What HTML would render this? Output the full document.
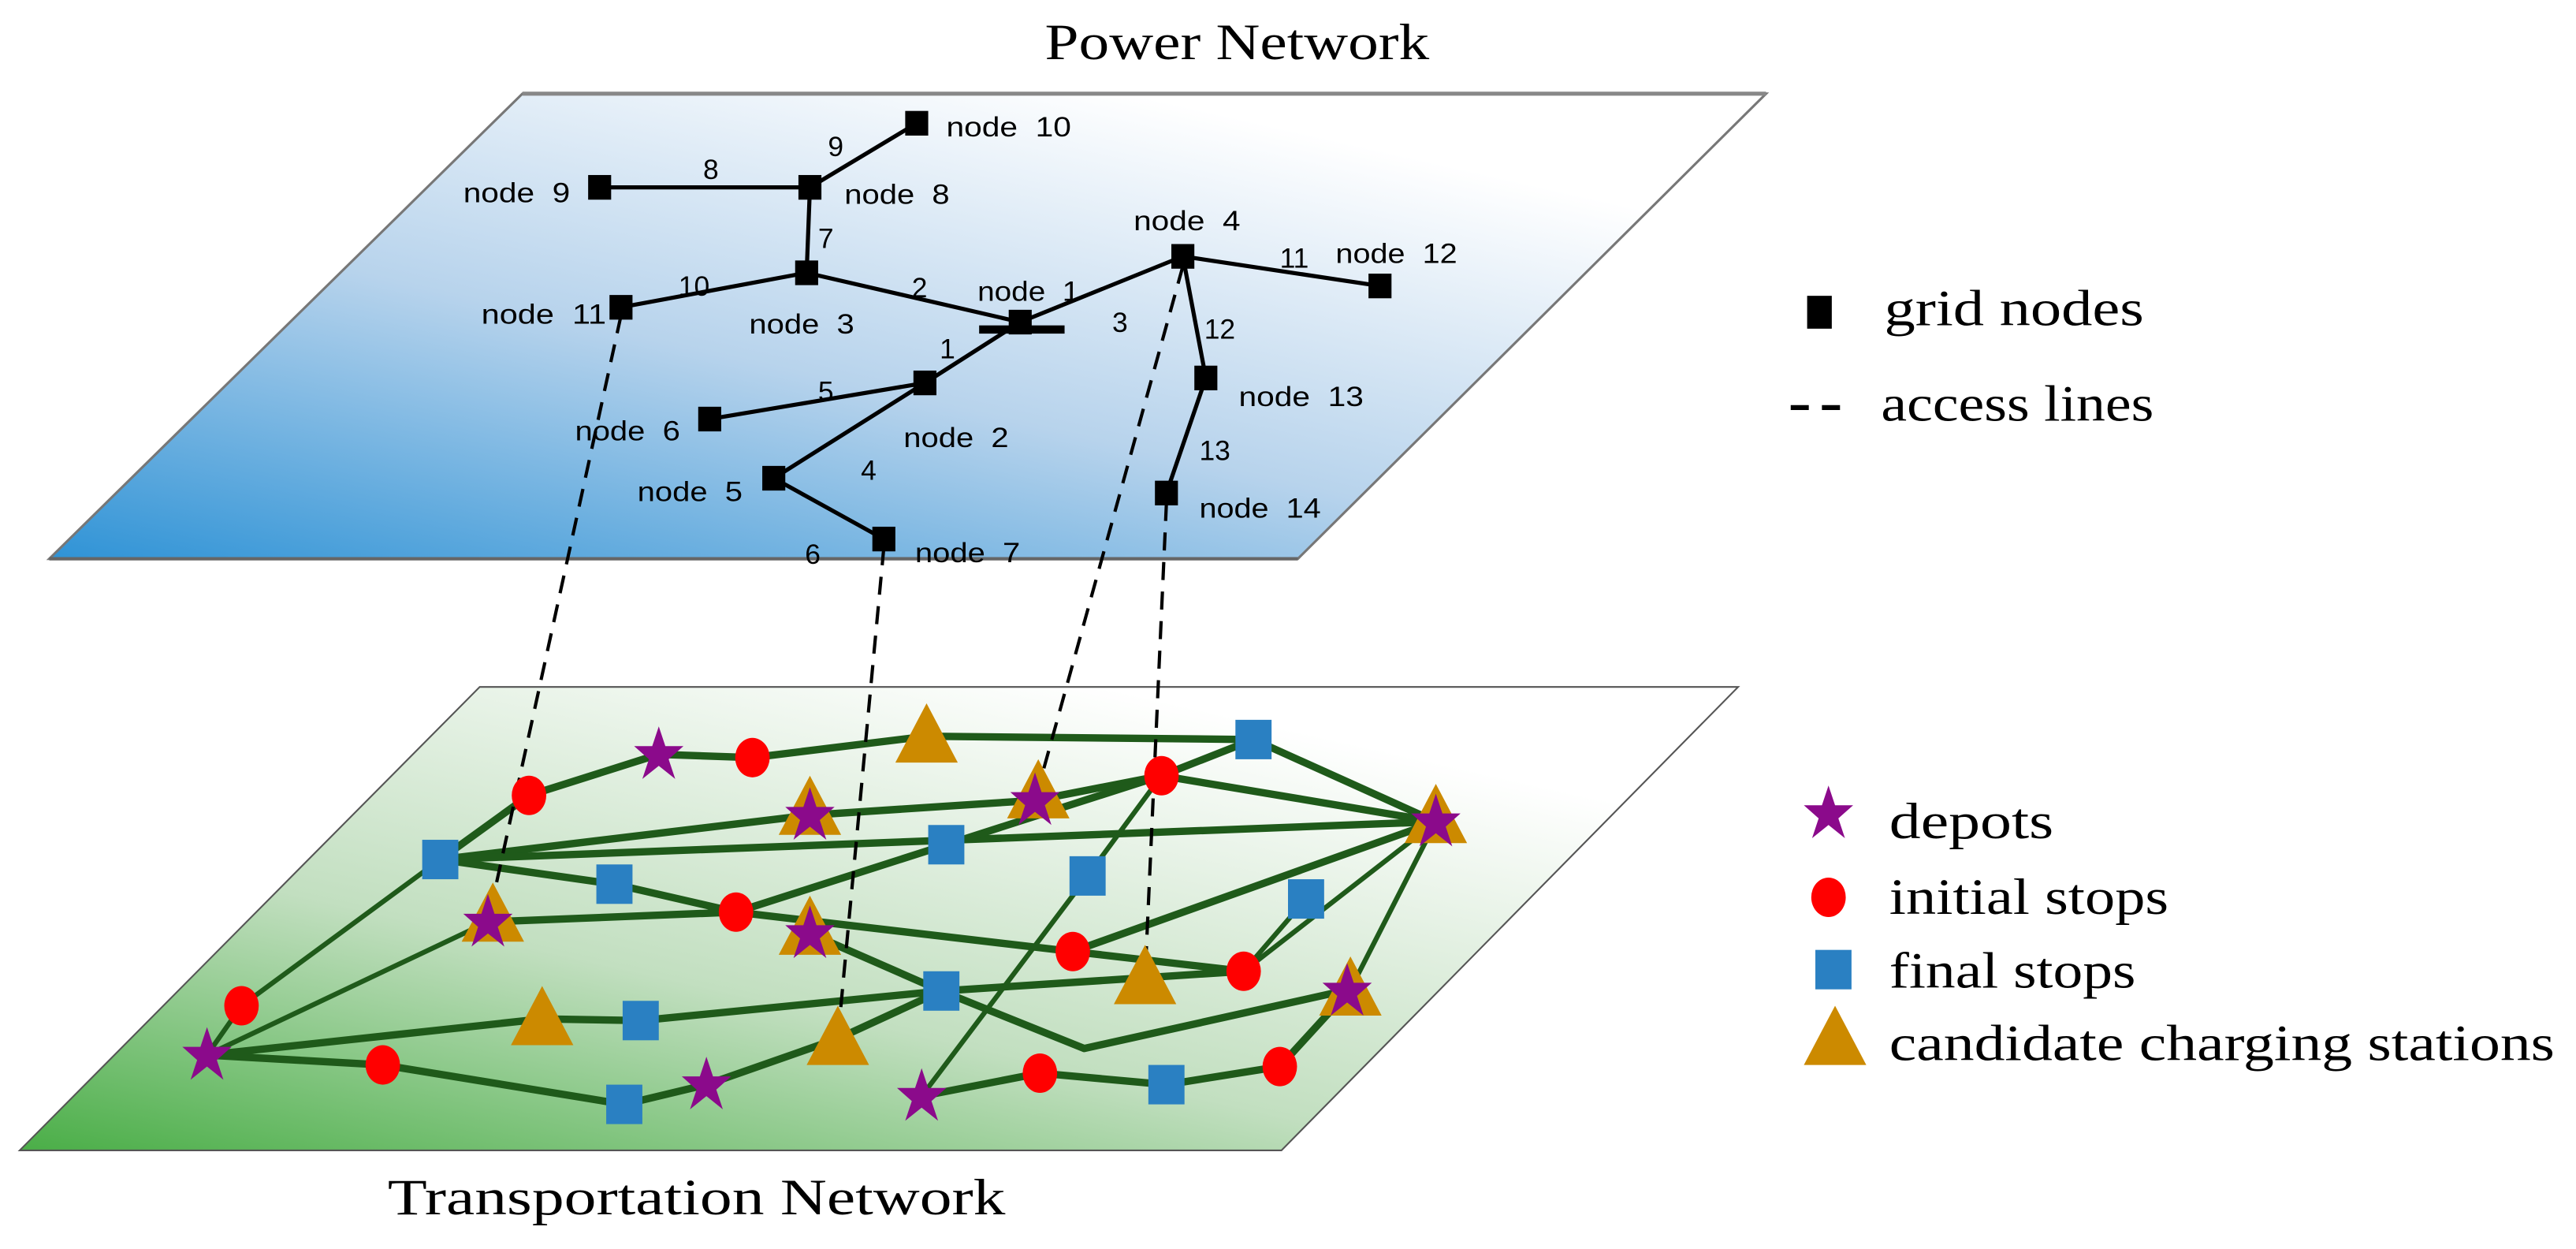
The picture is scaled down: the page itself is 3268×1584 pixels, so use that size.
<!DOCTYPE html>
<html><head><meta charset="utf-8"><style>
html,body{margin:0;padding:0;background:#fff}
svg{display:block}
.n{font-family:"Liberation Sans",Arial,sans-serif;font-size:17px;fill:#000;white-space:pre}
.s{font-family:"Liberation Serif",serif;fill:#000}
</style></head><body>
<svg width="3268" height="1584" viewBox="0 0 1568 760" preserveAspectRatio="none" xmlns="http://www.w3.org/2000/svg">
<defs>
<linearGradient id="gb" x1="0" y1="1" x2="0.75" y2="0.1">
<stop offset="0" stop-color="#2f93d6"/><stop offset="0.5" stop-color="#b7d3ec"/><stop offset="1" stop-color="#ffffff"/>
</linearGradient>
<linearGradient id="gg" x1="0" y1="1" x2="0.75" y2="0.1">
<stop offset="0" stop-color="#4aae47"/><stop offset="0.45" stop-color="#c2dfc0"/><stop offset="1" stop-color="#ffffff"/>
</linearGradient>
<polygon id="star" points="0,-17 4,-5 15,-5 6,3 10,15 0,7 -10,15 -6,3 -15,-5 -4,-5" fill="#8b0a8b"/>
<polygon id="tri" points="0,-20 19,16 -19,16" fill="#cc8a00"/>
<rect id="sq" x="-11" y="-12" width="22" height="24" fill="#2a80c2"/>
<ellipse id="ci" rx="10.5" ry="12" fill="#ff0000"/>
<rect id="gn" x="-7" y="-7.5" width="14" height="15" fill="#000"/>
</defs>

<text class="s" x="636" y="36" font-size="31" textLength="234" lengthAdjust="spacingAndGlyphs">Power Network</text>
<polygon points="318,57 1075,57 790,340 30,340" fill="url(#gb)" stroke="#777" stroke-width="1.5"/>
<line x1="318" y1="57" x2="1075" y2="57" stroke="#888" stroke-width="2.5"/>
<line x1="30" y1="340" x2="790" y2="340" stroke="#666" stroke-width="2"/>

<polygon points="292,418 1058,418 780,700 12,700" fill="url(#gg)" stroke="#555" stroke-width="1"/>
<text class="s" x="236" y="739" font-size="31" textLength="376" lengthAdjust="spacingAndGlyphs">Transportation Network</text>

<g stroke="#000" stroke-width="2.5" fill="none">
<line x1="558" y1="75" x2="493" y2="114"/>
<line x1="365" y1="114" x2="493" y2="114"/>
<line x1="493" y1="114" x2="491" y2="166"/>
<line x1="491" y1="166" x2="378" y2="187"/>
<line x1="491" y1="166" x2="621" y2="196"/>
<line x1="621" y1="196" x2="720" y2="156"/>
<line x1="720" y1="156" x2="840" y2="174"/>
<line x1="720" y1="156" x2="734" y2="230"/>
<line x1="734" y1="230" x2="710" y2="300"/>
<line x1="621" y1="196" x2="563" y2="233"/>
<line x1="563" y1="233" x2="432" y2="255"/>
<line x1="563" y1="233" x2="471" y2="291"/>
<line x1="471" y1="291" x2="538" y2="328"/>
</g>
<rect x="596" y="198" width="52" height="5" fill="#000"/>
<g>
<use href="#gn" x="558" y="75"/><use href="#gn" x="365" y="114"/><use href="#gn" x="493" y="114"/>
<use href="#gn" x="491" y="166"/><use href="#gn" x="378" y="187"/><use href="#gn" x="621" y="196"/>
<use href="#gn" x="720" y="156"/><use href="#gn" x="840" y="174"/><use href="#gn" x="563" y="233"/>
<use href="#gn" x="432" y="255"/><use href="#gn" x="734" y="230"/><use href="#gn" x="471" y="291"/>
<use href="#gn" x="710" y="300"/><use href="#gn" x="538" y="328"/>
</g>
<g>
<text class="n" x="576" y="83" textLength="76" lengthAdjust="spacingAndGlyphs">node  10</text>
<text class="n" x="504" y="95">9</text>
<text class="n" x="428" y="109">8</text>
<text class="n" x="282" y="123" textLength="65" lengthAdjust="spacingAndGlyphs">node  9</text>
<text class="n" x="514" y="124" textLength="64" lengthAdjust="spacingAndGlyphs">node  8</text>
<text class="n" x="498" y="151">7</text>
<text class="n" x="690" y="140" textLength="65" lengthAdjust="spacingAndGlyphs">node  4</text>
<text class="n" x="779" y="163">11</text>
<text class="n" x="813" y="160" textLength="74" lengthAdjust="spacingAndGlyphs">node  12</text>
<text class="n" x="413" y="180">10</text>
<text class="n" x="555" y="181">2</text>
<text class="n" x="595" y="183" textLength="62" lengthAdjust="spacingAndGlyphs">node  1</text>
<text class="n" x="293" y="197" textLength="76" lengthAdjust="spacingAndGlyphs">node  11</text>
<text class="n" x="456" y="203" textLength="64" lengthAdjust="spacingAndGlyphs">node  3</text>
<text class="n" x="677" y="202">3</text>
<text class="n" x="733" y="206">12</text>
<text class="n" x="572" y="218">1</text>
<text class="n" x="498" y="244">5</text>
<text class="n" x="754" y="247" textLength="76" lengthAdjust="spacingAndGlyphs">node  13</text>
<text class="n" x="350" y="268" textLength="64" lengthAdjust="spacingAndGlyphs">node  6</text>
<text class="n" x="550" y="272" textLength="64" lengthAdjust="spacingAndGlyphs">node  2</text>
<text class="n" x="524" y="292">4</text>
<text class="n" x="730" y="280">13</text>
<text class="n" x="388" y="305" textLength="64" lengthAdjust="spacingAndGlyphs">node  5</text>
<text class="n" x="730" y="315" textLength="74" lengthAdjust="spacingAndGlyphs">node  14</text>
<text class="n" x="490" y="343">6</text>
<text class="n" x="557" y="342" textLength="64" lengthAdjust="spacingAndGlyphs">node  7</text>
</g>

<g stroke="#1f5a1a" stroke-width="4.5" fill="none" stroke-linejoin="round">
<polyline points="268,523 322,484 401,459 458,461 564,448 763,450 874,500"/>
<polyline points="268,523 493,496 630,487 707,472 763,450"/>
<line x1="268" y1="523" x2="874" y2="500"/>
<line x1="707" y1="472" x2="874" y2="500"/>
<polyline points="268,523 374,538 448,555 653,579 757,591"/>
<line x1="297" y1="561" x2="448" y2="555"/>
<polyline points="448,555 576,514 707,472"/>
<line x1="653" y1="579" x2="874" y2="500"/>
<line x1="573" y1="603" x2="757" y2="591"/>
<polyline points="126,642 330,620 390,621 573,603"/>
<polyline points="126,642 233,648 380,672 430,660 510,632 573,603"/>
<line x1="493" y1="568" x2="573" y2="603"/>
<polyline points="573,603 660,638 822,602"/>
<polyline points="561,667 633,653 710,660 779,649 822,602"/>
</g>
<g stroke="#1f5a1a" stroke-width="3" fill="none">
<polyline points="268,523 147,612 126,642"/>
<line x1="126" y1="642" x2="297" y2="561"/>
<polyline points="561,667 662,533 707,472"/>
<line x1="757" y1="591" x2="795" y2="547"/>
<line x1="757" y1="591" x2="874" y2="500"/>
<line x1="822" y1="602" x2="874" y2="500"/>
</g>

<g stroke="#000" stroke-width="2" stroke-dasharray="11,7" fill="none">
<line x1="378" y1="192" x2="297" y2="561"/>
<line x1="538" y1="333" x2="510" y2="632"/>
<line x1="720" y1="162" x2="630" y2="487"/>
<line x1="710" y1="306" x2="697" y2="595"/>
</g>

<g>
<use href="#tri" x="564" y="448"/><use href="#tri" x="493" y="492"/><use href="#tri" x="632" y="482"/>
<use href="#tri" x="874" y="497"/><use href="#tri" x="300" y="557"/><use href="#tri" x="493" y="565"/>
<use href="#tri" x="330" y="620"/><use href="#tri" x="697" y="595"/><use href="#tri" x="510" y="632"/>
<use href="#tri" x="822" y="602"/>
<use href="#ci" x="322" y="484"/><use href="#ci" x="458" y="461"/><use href="#ci" x="707" y="472"/>
<use href="#ci" x="448" y="555"/><use href="#ci" x="653" y="579"/><use href="#ci" x="757" y="591"/>
<use href="#ci" x="147" y="612"/><use href="#ci" x="233" y="648"/><use href="#ci" x="633" y="653"/>
<use href="#ci" x="779" y="649"/>
<use href="#sq" x="763" y="450"/><use href="#sq" x="268" y="523"/><use href="#sq" x="576" y="514"/>
<use href="#sq" x="374" y="538"/><use href="#sq" x="662" y="533"/><use href="#sq" x="795" y="547"/>
<use href="#sq" x="573" y="603"/><use href="#sq" x="390" y="621"/><use href="#sq" x="380" y="672"/>
<use href="#sq" x="710" y="660"/>
<use href="#star" x="401" y="459"/><use href="#star" x="493" y="496"/><use href="#star" x="630" y="487"/>
<use href="#star" x="874" y="500"/><use href="#star" x="297" y="561"/><use href="#star" x="493" y="568"/>
<use href="#star" x="820" y="603"/><use href="#star" x="126" y="642"/><use href="#star" x="430" y="660"/>
<use href="#star" x="561" y="667"/>
</g>

<rect x="1100" y="180" width="15" height="20" fill="#000"/>
<text class="s" x="1147" y="198" font-size="31" textLength="158" lengthAdjust="spacingAndGlyphs">grid nodes</text>
<line x1="1090" y1="248" x2="1128" y2="248" stroke="#000" stroke-width="3" stroke-dasharray="11,8"/>
<text class="s" x="1145" y="256" font-size="31" textLength="166" lengthAdjust="spacingAndGlyphs">access lines</text>

<use href="#star" x="1113" y="495"/>
<text class="s" x="1150" y="510" font-size="31" textLength="100" lengthAdjust="spacingAndGlyphs">depots</text>
<use href="#ci" x="1113" y="546"/>
<text class="s" x="1150" y="556" font-size="31" textLength="170" lengthAdjust="spacingAndGlyphs">initial stops</text>
<use href="#sq" x="1116" y="590"/>
<text class="s" x="1150" y="601" font-size="31" textLength="150" lengthAdjust="spacingAndGlyphs">final stops</text>
<use href="#tri" x="1117" y="632"/>
<text class="s" x="1150" y="645" font-size="31" textLength="405" lengthAdjust="spacingAndGlyphs">candidate charging stations</text>
</svg>
</body></html>
